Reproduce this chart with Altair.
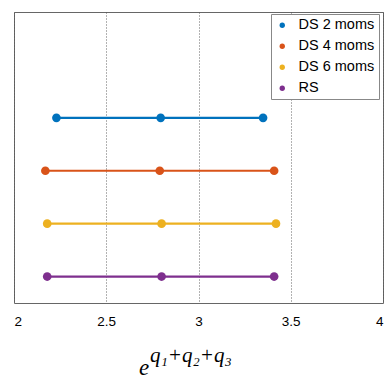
import altair as alt
import pandas as pd

series = ["DS 2 moms", "DS 4 moms", "DS 6 moms", "RS"]
colors = ["#0072BD", "#D95319", "#EDB120", "#7E2F8E"]
levels = [4, 3, 2, 1]
lower = [2.23, 2.17, 2.18, 2.18]
middle = [2.795, 2.79, 2.80, 2.80]
upper = [3.35, 3.41, 3.42, 3.41]
x_ticks = [2, 2.5, 3, 3.5, 4]

rows = []
for s, lv, lo, mi, up in zip(series, levels, lower, middle, upper):
    for v in (lo, mi, up):
        rows.append({"series": s, "level": lv, "value": v})
df = pd.DataFrame(rows)

W, H = 369, 291

xs = alt.Scale(domain=[2, 4], nice=False, zero=False)
ys = alt.Scale(domain=[0.5, 6], nice=False, zero=False)
color = alt.Color(
    "series:N",
    scale=alt.Scale(domain=series, range=colors),
    legend=alt.Legend(
        title=None, orient="none", legendX=257, legendY=2,
        fillColor="white", strokeColor="#888888", padding=4,
        symbolType="circle", symbolSize=28, labelFontSize=14.5,
        labelFont="Liberation Sans", labelColor="black", rowPadding=6,
        symbolStrokeWidth=0, labelOffset=9, labelLimit=200,
    ),
)

base = alt.Chart(df).encode(
    x=alt.X("value:Q", scale=xs,
            axis=alt.Axis(title=None, values=x_ticks, format="~g",
                          grid=True, gridDash=[1, 2], gridColor="#555555",
                          gridOpacity=0.9, ticks=False, domain=False,
                          labelFont="Liberation Sans", labelFontSize=13.5,
                          labelColor="black", labelPadding=11)),
    y=alt.Y("level:Q", scale=ys, axis=None),
    color=color,
    detail="series:N",
)

lines = base.mark_line(strokeWidth=2.2)
points = base.mark_point(filled=True, size=75, opacity=1)

# axis title: e raised to q1+q2+q3, built from a base glyph and a superscript
title_df = pd.DataFrame({"t": ["e"]})
title_e = alt.Chart(title_df).mark_text(
    font="Liberation Serif", fontStyle="italic", fontSize=23, align="left",
    baseline="alphabetic", color="black", clip=False
).encode(text="t:N", x=alt.value(125), y=alt.value(363))
sup_df = pd.DataFrame({"t": ["q\u2081+q\u2082+q\u2083"]})
title_sup = alt.Chart(sup_df).mark_text(
    font="Liberation Serif", fontStyle="italic", fontSize=21, align="left",
    baseline="alphabetic", color="black", clip=False
).encode(text="t:N", x=alt.value(136), y=alt.value(350))

chart = alt.layer(lines, points, title_e, title_sup).properties(
    width=W, height=H,
    autosize=alt.AutoSizeParams(type="none"),
    padding={"left": 14, "top": 12, "right": 4, "bottom": 82},
).configure_view(stroke="#666666", strokeWidth=1)

chart.save("out.html", embed_options={"renderer": "svg", "actions": False})
